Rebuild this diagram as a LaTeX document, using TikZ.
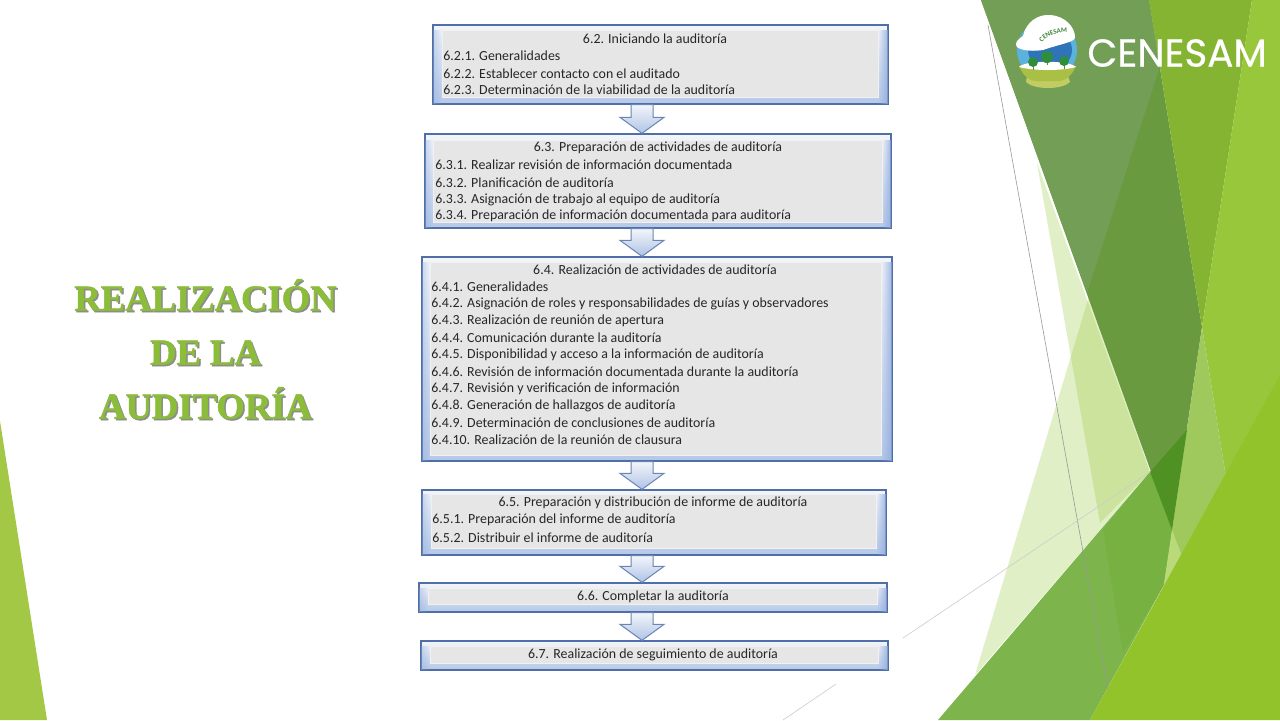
\documentclass[tikz,border=0pt]{standalone}
\usepackage{fontspec}
\setmainfont{Carlito}
\newfontfamily\titlefont[BoldFeatures={FakeBold=1.2}]{Liberation Serif}
\newfontfamily\logofont[FakeBold=0.6]{Poppins}
\usetikzlibrary{calc,fit,fadings,decorations.text}
\definecolor{boxline}{HTML}{4F6FA6}
\definecolor{boxtop}{HTML}{F3F5FA}
\definecolor{boxbottom}{HTML}{B4C8E8}
\definecolor{boxstrip}{HTML}{8FAADC}
\definecolor{boxgray}{HTML}{E6E6E6}
\definecolor{titlegreen}{HTML}{8BBC3A}
\definecolor{paleleaf}{HTML}{92C42F}
\definecolor{darkleaf}{HTML}{6A9A40}
\definecolor{greyleaf}{HTML}{729F55}
\definecolor{oliveleaf}{HTML}{85B432}
\definecolor{limeleaf}{HTML}{99C73C}
\definecolor{softleaf}{HTML}{9FC95C}
\definecolor{midleaf}{HTML}{7DB54C}
\definecolor{midleafb}{HTML}{77B141}
\definecolor{deepleaf}{HTML}{4F9122}
\definecolor{wedgeleaf}{HTML}{BAD97A}
\definecolor{brightleaf}{HTML}{93C32B}
\definecolor{sideleaf}{HTML}{A3C845}
\definecolor{skylight}{HTML}{5BB2DC}
\definecolor{skydark}{HTML}{2F73B8}
\definecolor{bowlrim}{HTML}{C3CC62}
\definecolor{bowlbody}{HTML}{A9BF45}
\definecolor{trunk}{HTML}{6E7F60}
\definecolor{treetop}{HTML}{2F8E3E}
\definecolor{helmetword}{HTML}{3E7F3A}
\tikzset{
  auditbox/.style={draw=boxline,line width=0.65pt,top color=boxtop,bottom color=boxbottom,inner sep=0pt},
  innerbox/.style={draw=boxgray!55!white,line width=0.4pt,fill=boxgray,inner sep=0pt},
  headtext/.style={font=\fontsize{6.95}{8}\selectfont,text=black!85,inner sep=0pt,yshift=-0.4pt},
  itemtext/.style={headtext,anchor=west},
  blockarrow/.style={draw=boxline!85,line width=0.5pt,top color=boxtop,bottom color=boxbottom!85!boxstrip},
  bigtitle/.style={font=\titlefont\bfseries\fontsize{18.3}{27}\selectfont,align=center,inner sep=0pt},
}
\begin{document}
\begin{tikzpicture}[x=0.5pt,y=-0.5pt]
\useasboundingbox (0,0) rectangle (1280,720);
\fill[white] (0,0) rectangle (1280,720);
\fill[paleleaf,opacity=0.27] (1037,163) -- (1100,523) -- (1150,472) -- cycle;
\fill[paleleaf,opacity=0.27] (1090,293) -- (975,675) -- (1150,472) -- cycle;
\fill[darkleaf] (981,0) -- (1149,0) -- (1202,327) -- (1172,530) -- cycle;
\fill[greyleaf] (981,0) -- (1149,0) -- (1160,66) -- (1087,293) -- cycle;
\fill[oliveleaf] (1149,0) -- (1252,0) -- (1202,327) -- cycle;
\fill[limeleaf] (1252,0) -- (1280,0) -- (1280,420) -- (1228,490) -- (1202,327) -- cycle;
\fill[softleaf] (1202,327) -- (1228,490) -- (1180,560) -- (1172,530) -- cycle;
\fill[midleaf] (938,720) -- (1150,472) -- (1172,530) -- (1165,583) -- (1090,720) -- cycle;
\fill[midleafb] (1103,530) -- (1150,472) -- (1172,530) -- (1165,583) -- (1123,653) -- cycle;
\fill[deepleaf] (1187,430) -- (1150,472) -- (1172,530) -- cycle;
\fill[wedgeleaf] (1172,530) -- (1182,556) -- (1163,590) -- cycle;
\fill[brightleaf] (1090,720) -- (1280,720) -- (1280,375) -- cycle;
\fill[sideleaf] (0,421) -- (47,720) -- (0,720) -- cycle;
\draw[black!40,line width=0.3pt] (988,25) -- (1108,690);
\draw[black!20,line width=0.3pt] (903,638) -- (1150,472);
\draw[black!20,line width=0.3pt] (836,684) -- (783,720);
\node[bigtitle,text=black!45] (title shadow) at (207,350.5) {REALIZACIÓN\\DE LA\\AUDITORÍA};
\node[bigtitle,text=titlegreen] (title) at (205.5,349) {REALIZACIÓN\\DE LA\\AUDITORÍA};
\foreach \nm/\xa/\ya/\xb/\yb/\xc/\yc/\xd/\yd in {
  a/433/25/888/104/442/30/878/97,
  b/425/134/891/228/433/140/882/222,
  c/422/257/892/461/430/262/881/455,
  d/422/490/886/555/431/494/876/548,
  e/419/583/887/612/428/588/877/604,
  f/421/641/888/670/430/646/878/663}{
  \node[auditbox,fit={(\xa,\ya)(\xb,\yb)}] (\nm) {};
  \fill[boxstrip,opacity=0.8,path fading=west] (\xd,\yc) rectangle (\xb,\yb);
  \fill[boxstrip,opacity=0.4,path fading=east] (\xa,\yc) rectangle (\xc,\yb);
  \draw[boxline,line width=0.65pt] (\nm.north west) rectangle (\nm.south east);
  \node[innerbox,fit={(\xc,\yc)(\xd,\yd)}] (\nm in) {};
}
\foreach \a/\b in {a/b,b/c,c/d,d/e,e/f}{
  \coordinate (axis) at (642,0);
  \coordinate (top) at (axis |- \a.south);
  \coordinate (tip) at (axis |- \b.north);
  \draw[blockarrow] ($(top)+(-11,0)$) -- ($(top)+(11,0)$) -- ($(tip)+(11,-16)$) -- ($(tip)+(22,-16)$)
    -- (tip) -- ($(tip)+(-22,-16)$) -- ($(tip)+(-11,-16)$) -- cycle;
}
\node[headtext] (a head) at (655,38) {6.2. Iniciando la auditoría};
\foreach \i/\y/\t in {1/55/6.2.1. Generalidades,
  2/73/6.2.2. Establecer contacto con el auditado,
  3/89/6.2.3. Determinación de la viabilidad de la auditoría}
  \node[itemtext] (a\i) at (443,\y) {\t};
\node[headtext] (b head) at (658,147) {6.3. Preparación de actividades de auditoría};
\foreach \i/\y/\t in {1/164/6.3.1. Realizar revisión de información documentada,
  2/182/6.3.2. Planificación de auditoría,
  3/199/6.3.3. Asignación de trabajo al equipo de auditoría,
  4/215/6.3.4. Preparación de información documentada para auditoría}
  \node[itemtext] (b\i) at (435,\y) {\t};
\node[headtext] (c head) at (655,269) {6.4. Realización de actividades de auditoría};
\foreach \i/\y/\t in {1/286/6.4.1. Generalidades,
  2/303/6.4.2. Asignación de roles y responsabilidades de guías y observadores,
  3/320/6.4.3. Realización de reunión de apertura,
  4/337/6.4.4. Comunicación durante la auditoría,
  5/354/6.4.5. Disponibilidad y acceso a la información de auditoría,
  6/371/6.4.6. Revisión de información documentada durante la auditoría,
  7/388/6.4.7. Revisión y verificación de información,
  8/405/6.4.8. Generación de hallazgos de auditoría,
  9/422/6.4.9. Determinación de conclusiones de auditoría,
  10/439/6.4.10. Realización de la reunión de clausura}
  \node[itemtext] (c\i) at (431,\y) {\t};
\node[headtext] (d head) at (653,502) {6.5. Preparación y distribución de informe de auditoría};
\foreach \i/\y/\t in {1/519/6.5.1. Preparación del informe de auditoría,
  2/537/6.5.2. Distribuir el informe de auditoría}
  \node[itemtext] (d\i) at (432,\y) {\t};
\node[headtext] (e head) at (653,596) {6.6. Completar la auditoría};
\node[headtext] (f head) at (653,654) {6.7. Realización de seguimiento de auditoría};
\fill[skylight] (1047,50) circle[radius=30];
\fill[skydark] (1050,50) ellipse[x radius=22,y radius=20];
\fill[bowlrim] (1027,76) -- (1068,76) -- (1070,82) .. controls (1062,90) and (1034,90) .. (1026,82) -- cycle;
\fill[bowlbody] (1019,66) -- (1076,66) .. controls (1072,76) and (1064,81) .. (1060,81) -- (1036,81) .. controls (1030,81) and (1023,76) .. (1019,66) -- cycle;
\fill[white] (1019,67) .. controls (1024,60) and (1070,60) .. (1076,67) .. controls (1062,71) and (1034,71) .. (1019,67) -- cycle;
\foreach \tx/\ty/\tr in {1033/62/5,1047/57/6,1064/61/5}{
  \draw[trunk,line width=0.4pt] (\tx,\ty) -- (\tx,\ty+8);
  \fill[treetop] (\tx,\ty) circle[radius=\tr];
}
\fill[white] (1023,36) .. controls (1026,22) and (1038,14) .. (1050,15) .. controls (1066,16) and (1075,28) .. (1075,37)
  .. controls (1076,42) and (1060,44) .. (1043,50) .. controls (1030,52) and (1015,50) .. (1016,44) .. controls (1016,41) and (1020,38) .. (1023,36) -- cycle;
\path[decorate,decoration={text along path,text align=center,
  text={|\fontsize{3.4}{4}\selectfont\bfseries\color{helmetword}|CENESAM}}]
  (1039,45) .. controls (1046,36) and (1058,31) .. (1071,33);
\node[font=\logofont\fontsize{19.4}{22}\selectfont,text=white,inner sep=0pt,anchor=west] (logo) at (1087,53) {CENESAM};
\end{tikzpicture}
\end{document}
